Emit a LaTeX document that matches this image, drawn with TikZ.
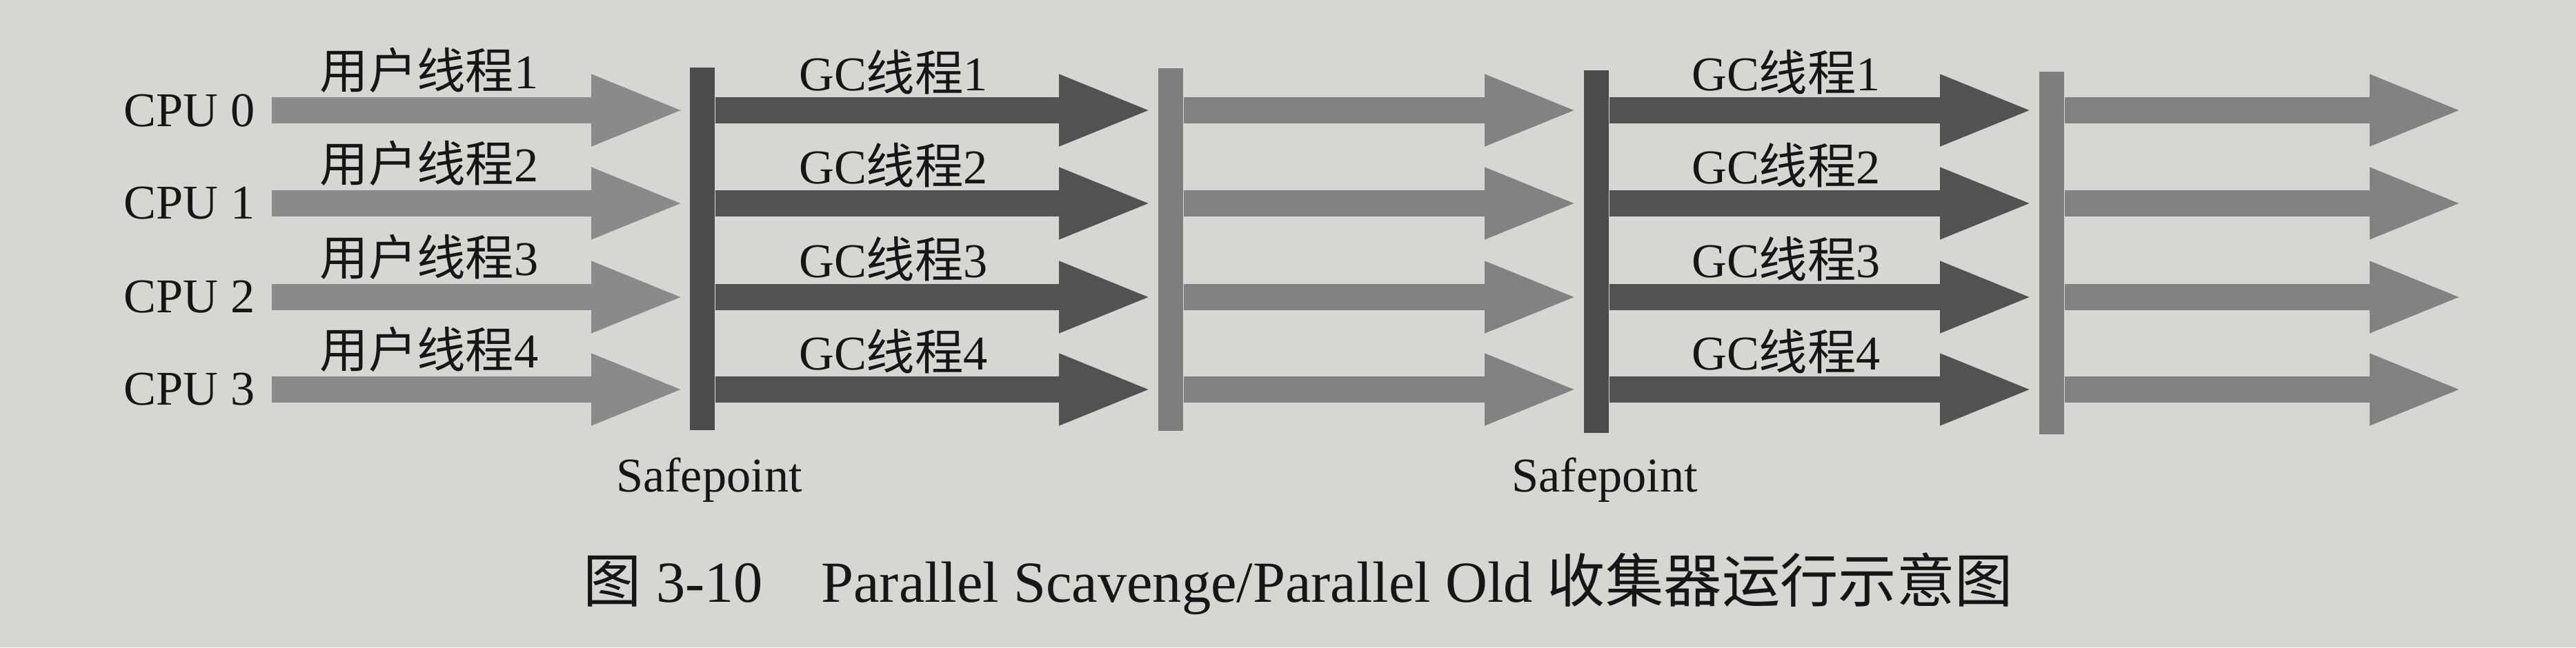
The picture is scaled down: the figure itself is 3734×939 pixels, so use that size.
\documentclass[tikz,border=0pt]{standalone}
\usepackage{fontspec}
\setmainfont{Liberation Serif}
\newfontfamily\cjk{Noto Sans CJK SC}
\usetikzlibrary{arrows.meta}
\definecolor{bg}{HTML}{D6D6D2}
\definecolor{usercol}{HTML}{8A8A8A}
\definecolor{gccol}{HTML}{525252}
\definecolor{lightcol}{HTML}{828282}
\definecolor{darkbar}{HTML}{4C4C4C}
\definecolor{lightbar}{HTML}{7E7E7E}
\definecolor{ink}{HTML}{161616}
\begin{document}
\begin{tikzpicture}[x=0.01cm,y=-0.01cm,
  lbl/.style={font=\fontsize{20}{24}\selectfont, text=ink, inner sep=0pt},
  caption/.style={font=\fontsize{24}{28}\selectfont, text=ink, inner sep=0pt},
  barbox/.style={rectangle, draw=none, minimum width=3.6mm, minimum height=52.6mm, inner sep=0pt},
  flow/.style={line width=3.8mm, -{Triangle[length=13.7mm,width=9.3mm]}},
  uarrow/.style={flow, draw=usercol, shorten >=0.5mm},
  gcarrow/.style={flow, draw=gccol, shorten >=0.6mm},
  larrow/.style={flow, draw=lightcol, shorten >=0.6mm}]
\fill[bg] (0,0) rectangle (3734,939);
\useasboundingbox (0,0) rectangle (3734,939);
% rows
\coordinate (r0) at (0,160);
\coordinate (r1) at (0,295);
\coordinate (r2) at (0,431);
\coordinate (r3) at (0,565);
% safepoint bars
\node[barbox, fill=darkbar] (bar1) at (1018,361) {};
\node[barbox, fill=lightbar] (bar2) at (1697,362) {};
\node[barbox, fill=darkbar] (bar3) at (2314,365) {};
\node[barbox, fill=lightbar] (bar4) at (2974,367) {};
\coordinate (ustart) at (394,0);
\coordinate (fend) at (3578,0);
% CPU labels
\node[lbl, anchor=east] (cpu0) at (370,160) {CPU 0};
\node[lbl, anchor=east] (cpu1) at (370,295) {CPU 1};
\node[lbl, anchor=east] (cpu2) at (370,431) {CPU 2};
\node[lbl, anchor=east] (cpu3) at (370,565) {CPU 3};
% arrows
\foreach \r in {0,1,2,3}{
  \draw[uarrow] (ustart |- r\r) -- (bar1.west |- r\r);
  \draw[gcarrow] (bar1.east |- r\r) -- (bar2.west |- r\r);
  \draw[larrow] (bar2.east |- r\r) -- (bar3.west |- r\r);
  \draw[gcarrow] (bar3.east |- r\r) -- (bar4.west |- r\r);
  \draw[larrow] (bar4.east |- r\r) -- (fend |- r\r);
}
% thread labels
\node[lbl] (u1) at (622,102) {{\cjk 用户线程}1};
\node[lbl] (u2) at (622,237) {{\cjk 用户线程}2};
\node[lbl] (u3) at (622,373) {{\cjk 用户线程}3};
\node[lbl] (u4) at (622,507) {{\cjk 用户线程}4};
\node[lbl] (ga1) at (1295,105) {GC{\cjk 线程}1};
\node[lbl] (ga2) at (1295,240) {GC{\cjk 线程}2};
\node[lbl] (ga3) at (1295,376) {GC{\cjk 线程}3};
\node[lbl] (ga4) at (1295,510) {GC{\cjk 线程}4};
\node[lbl] (gb1) at (2589,105) {GC{\cjk 线程}1};
\node[lbl] (gb2) at (2589,240) {GC{\cjk 线程}2};
\node[lbl] (gb3) at (2589,376) {GC{\cjk 线程}3};
\node[lbl] (gb4) at (2589,510) {GC{\cjk 线程}4};
% safepoint labels
\node[lbl, anchor=base] (sp1) at (1028,713) {Safepoint};
\node[lbl, anchor=base] (sp2) at (2326,713) {Safepoint};
% caption
\node[caption, anchor=base] (cap) at (1882,873) {{\cjk 图} 3-10\hspace{1em}Parallel Scavenge/Parallel Old {\cjk 收集器运行示意图}};
\end{tikzpicture}
\end{document}
